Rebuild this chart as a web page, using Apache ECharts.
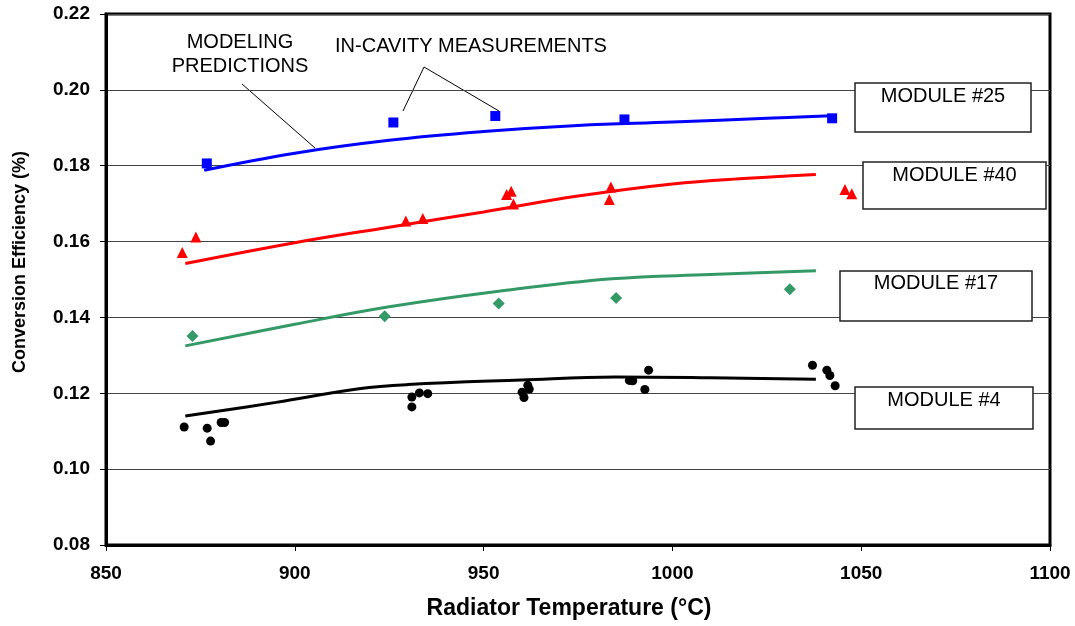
<!DOCTYPE html>
<html>
<head>
<meta charset="utf-8">
<script src="https://cdn.jsdelivr.net/npm/echarts@6/dist/echarts.min.js"></script>
<style>html,body{margin:0;padding:0;background:#fff;}#c{width:1075px;height:626px;}</style>
</head>
<body>
<div id="c"></div>
<script>
// Tick values
const xTicks = [850, 900, 950, 1000, 1050, 1100];
const yTicks = [0.08, 0.10, 0.12, 0.14, 0.16, 0.18, 0.20, 0.22];

// Module #25 (blue)
const m25Temp = [876.7, 926.1, 953.1, 987.3, 1042.3];
const m25Eff = [0.1806, 0.1914, 0.1931, 0.1922, 0.1925];
const m25ModelTemp = [876, 900, 925, 950, 975, 1000, 1025, 1042];
const m25ModelEff = [0.1788, 0.1833, 0.1867, 0.1890, 0.1906, 0.1915, 0.1925, 0.1932];

// Module #40 (red)
const m40Temp = [870.2, 873.8, 929.4, 933.9, 956.1, 957.3, 957.9, 983.7, 983.3, 1045.7, 1047.5];
const m40Eff = [0.1571, 0.1612, 0.1654, 0.1661, 0.1724, 0.1733, 0.1699, 0.1744, 0.1711, 0.1737, 0.1726];
const m40ModelTemp = [871, 900, 925, 950, 975, 1000, 1020, 1038];
const m40ModelEff = [0.1542, 0.1597, 0.1638, 0.1678, 0.1720, 0.1752, 0.1767, 0.1777];

// Module #17 (green)
const m17Temp = [872.9, 923.8, 954.0, 985.1, 1031.1];
const m17Eff = [0.1351, 0.1403, 0.1437, 0.1451, 0.1474];
const m17ModelTemp = [871, 900, 925, 954, 984, 1010, 1038];
const m17ModelEff = [0.1325, 0.1382, 0.1428, 0.1469, 0.1502, 0.1513, 0.1523];

// Module #4 (black)
const m4Temp = [870.7, 876.8, 877.7, 880.5, 881.4, 931.0, 931.0, 933.0, 935.2, 960.2, 960.7, 961.7, 962.1, 988.6, 989.5, 992.7, 993.7, 1037.1, 1040.9, 1041.7, 1043.1];
const m4Eff = [0.1111, 0.1108, 0.1074, 0.1123, 0.1123, 0.1190, 0.1164, 0.1201, 0.1199, 0.1203, 0.1189, 0.1221, 0.1211, 0.1234, 0.1233, 0.1210, 0.1261, 0.1274, 0.1261, 0.1247, 0.1220];
const m4ModelTemp = [871, 895, 917, 930, 960, 985, 1010, 1038];
const m4ModelEff = [0.1140, 0.1176, 0.1212, 0.1223, 0.1235, 0.1243, 0.1241, 0.1237];

const zip = (a, b) => a.map((v, i) => [v, b[i]]);
const FONT = '"Liberation Sans", Arial, sans-serif';

function lineSeries(t, e, color) {
  return { type: 'line', data: zip(t, e), smooth: 0.4, symbol: 'none',
    lineStyle: { color: color, width: 3 }, z: 3, silent: true };
}
function scatterSeries(t, e, color, symbol, size) {
  return { type: 'scatter', data: zip(t, e), symbol: symbol, symbolSize: size,
    itemStyle: { color: color, opacity: 1 }, z: 4, silent: true };
}

function labelBox(x, y, w, h, text, ty) {
  return [
    { type: 'rect', shape: { x: x, y: y, width: w, height: h },
      style: { fill: '#fff', stroke: '#222', lineWidth: 1.5 }, z: 100 },
    { type: 'text', x: x + w / 2, y: ty,
      style: { text: text, fill: '#000', font: '20px ' + FONT, textAlign: 'center', textVerticalAlign: 'middle' }, z: 101 }
  ];
}

const chart = echarts.init(document.getElementById('c'), null, { renderer: 'canvas' });
chart.setOption({
  animation: false,
  backgroundColor: '#fff',
  grid: { left: 106, right: 25, top: 14, bottom: 81, show: true, borderColor: '#000', borderWidth: 3, backgroundColor: 'transparent' },
  xAxis: {
    type: 'value', min: xTicks[0], max: xTicks[xTicks.length - 1], interval: 50,
    axisLine: { show: true, lineStyle: { color: '#000', width: 3 } },
    axisTick: { show: true, length: 6, lineStyle: { color: '#000', width: 1 } },
    axisLabel: { margin: 19, fontFamily: FONT, fontSize: 19, fontWeight: 'bold', color: '#000',
      formatter: v => String(v) },
    splitLine: { show: false }
  },
  yAxis: {
    type: 'value', min: yTicks[0], max: yTicks[yTicks.length - 1], interval: 0.02,
    axisLine: { show: true, lineStyle: { color: '#000', width: 3 } },
    axisTick: { show: true, length: 6, lineStyle: { color: '#000', width: 1 } },
    axisLabel: { margin: 16, fontFamily: FONT, fontSize: 19, fontWeight: 'bold', color: '#000',
      formatter: v => v.toFixed(2) },
    splitLine: { show: true, lineStyle: { color: '#444', width: 1 } }
  },
  series: [
    lineSeries(m25ModelTemp, m25ModelEff, '#0000FF'),
    lineSeries(m40ModelTemp, m40ModelEff, '#FF0000'),
    lineSeries(m17ModelTemp, m17ModelEff, '#339966'),
    lineSeries(m4ModelTemp, m4ModelEff, '#000000'),
    scatterSeries(m25Temp, m25Eff, '#0000FF', 'rect', 10),
    scatterSeries(m40Temp, m40Eff, '#FF0000', 'triangle', 11),
    scatterSeries(m17Temp, m17Eff, '#339966', 'diamond', 12),
    scatterSeries(m4Temp, m4Eff, '#000000', 'circle', 9)
  ],
  graphic: [
    { type: 'text', x: 569, y: 609, style: { text: 'Radiator Temperature (°C)', fill: '#000', font: 'bold 23px ' + FONT, textAlign: 'center', textVerticalAlign: 'middle' } },
    { type: 'text', x: 20, y: 262, rotation: Math.PI / 2, style: { text: 'Conversion Efficiency (%)', fill: '#000', font: 'bold 18px ' + FONT, textAlign: 'center', textVerticalAlign: 'middle' } },
    { type: 'text', x: 240, y: 42, style: { text: 'MODELING', fill: '#000', font: '20px ' + FONT, textAlign: 'center', textVerticalAlign: 'middle' } },
    { type: 'text', x: 240, y: 66, style: { text: 'PREDICTIONS', fill: '#000', font: '20px ' + FONT, textAlign: 'center', textVerticalAlign: 'middle' } },
    { type: 'line', shape: { x1: 242, y1: 84, x2: 315, y2: 148 }, style: { stroke: '#000', lineWidth: 1 } },
    { type: 'text', x: 471, y: 46, style: { text: 'IN-CAVITY MEASUREMENTS', fill: '#000', font: '20px ' + FONT, textAlign: 'center', textVerticalAlign: 'middle' } },
    { type: 'polyline', shape: { points: [[403, 111], [424, 67], [499, 111]] }, style: { stroke: '#000', lineWidth: 1, fill: null } },
    ...labelBox(855, 83, 176, 49, 'MODULE #25', 96),
    ...labelBox(863, 162, 183, 47, 'MODULE #40', 175),
    ...labelBox(840, 271, 192, 50, 'MODULE #17', 283),
    ...labelBox(855, 387, 178, 42, 'MODULE #4', 400)
  ]
});
</script>
</body>
</html>
